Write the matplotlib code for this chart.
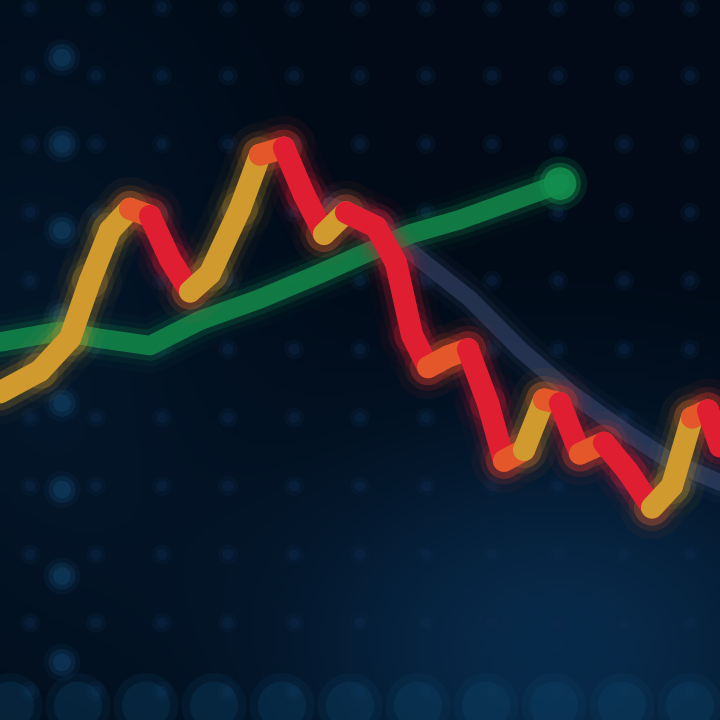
import matplotlib
matplotlib.use("Agg")
import matplotlib.pyplot as plt
import numpy as np
from matplotlib.collections import LineCollection

# price series (time step, price)
price_t = [0, 2, 3.5, 4.5, 5.5, 6.5, 7.5, 8.5, 9.5, 10.5, 12, 13, 14.2, 15.2, 16.2, 17.3, 18.8, 19.8, 20.6, 21.4, 22.4, 23.4, 24.4, 25.2, 26.2, 27.2, 28, 29, 30.2, 31.4, 32.6, 33.6, 34.6, 35.4, 36]
price_v = [45.5, 48.5, 53, 61, 68, 71, 70, 64, 59.5, 62, 71, 78.5, 79.5, 73, 67.5, 70.5, 68.5, 63.5, 53.5, 49, 50.5, 51.5, 44, 36, 37.5, 44.5, 44, 37, 38.5, 34.5, 29.5, 32.5, 42, 43, 38]

# moving average (green)
ma_t = [0, 3, 5, 7.5, 10, 13, 16, 18, 20.5, 23, 25.5, 28]
ma_v = [52.5, 54, 53, 52, 55.5, 58.5, 62, 64.5, 67.5, 69.5, 72, 74.5]

# trend line (grey-blue)
trend_t = [16.5, 19, 21, 23.5, 26, 28.5, 31, 33.5, 36]
trend_v = [71.5, 68.5, 64, 58.5, 51.5, 45.5, 40.5, 36, 33]

fig = plt.figure(figsize=(7.2, 7.2), dpi=100)
ax = fig.add_axes([0, 0, 1, 1])
ax.set_xlim(0, 36)
ax.set_ylim(0, 100)
ax.axis("off")
fig.patch.set_facecolor("#020a17")

# background glow, brighter blue toward the lower right
yy, xx = np.mgrid[0:1:200j, 0:1:200j]
glow = np.exp(-(((xx - 0.78) / 0.4) ** 2 + ((yy - 0.1) / 0.3) ** 2))
glow2 = np.exp(-(((xx - 0.05) / 0.3) ** 2 + ((yy - 0.5) / 0.5) ** 2)) * 0.35
base = np.array([1, 10, 22]) / 255.0
top = np.array([8, 42, 74]) / 255.0
img = base + (top - base) * np.clip(glow + glow2, 0, 1)[..., None]
ax.imshow(img, extent=[0, 36, 0, 100], origin="lower", aspect="auto", zorder=0)

# faint dotted grid
gx, gy = np.meshgrid(np.arange(1.5, 36, 3.3), np.arange(4, 100, 9.5))
ax.scatter(gx.ravel(), gy.ravel(), s=200, color="#0c2644", alpha=0.25, edgecolors="none", zorder=1)
ax.scatter(gx.ravel(), gy.ravel(), s=60, color="#0f2c50", alpha=0.35, edgecolors="none", zorder=1)

# vertical dotted axis line
vy = np.arange(8, 100, 12)
for s, a in [(700, 0.15), (380, 0.3), (160, 0.45)]:
    ax.scatter([3.1] * len(vy), vy, s=s, color="#134368", alpha=a, edgecolors="none", zorder=2)

# bottom row of soft blobs
bx = np.arange(0.5, 36, 3.4)
for s, a in [(2200, 0.15), (1200, 0.25)]:
    ax.scatter(bx, [2.0] * len(bx), s=s, color="#0f4a70", alpha=a, edgecolors="none", zorder=2)


def glow_line(x, y, color, widths, zorder):
    for lw, a in widths:
        ax.plot(x, y, color=color, lw=lw, alpha=a, solid_capstyle="round",
                solid_joinstyle="round", zorder=zorder)


# trend line
glow_line(trend_t, trend_v, "#52608f", [(30, 0.05), (20, 0.1), (12, 0.35)], 3)

# green moving average with end dot
glow_line(ma_t, ma_v, "#12874a", [(40, 0.04), (30, 0.08), (22, 0.2), (14, 0.85)], 4)
for s, a in [(1500, 0.15), (900, 0.35), (550, 0.85)]:
    ax.scatter([ma_t[-1]], [ma_v[-1]], s=s, color="#148f4e", alpha=a, edgecolors="none", zorder=4)

# price line: gold on the way up, red on the way down
pts = np.column_stack([price_t, price_v])
segs = np.stack([pts[:-1], pts[1:]], axis=1)
cols = []
for a, b in zip(price_v[:-1], price_v[1:]):
    if b - a > 1.5:
        cols.append("#d09a2e")
    elif b - a < -1.5:
        cols.append("#e01e32")
    else:
        cols.append("#e4572a")
for lw, a in [(46, 0.03), (34, 0.07), (26, 0.18)]:
    lc = LineCollection(segs, colors=cols, linewidths=lw, alpha=a, capstyle="round", joinstyle="round", zorder=5)
    ax.add_collection(lc)
lc = LineCollection(segs, colors=cols, linewidths=16, capstyle="round", joinstyle="round", zorder=6)
ax.add_collection(lc)

fig.savefig("out.png", dpi=100, facecolor=fig.get_facecolor())
